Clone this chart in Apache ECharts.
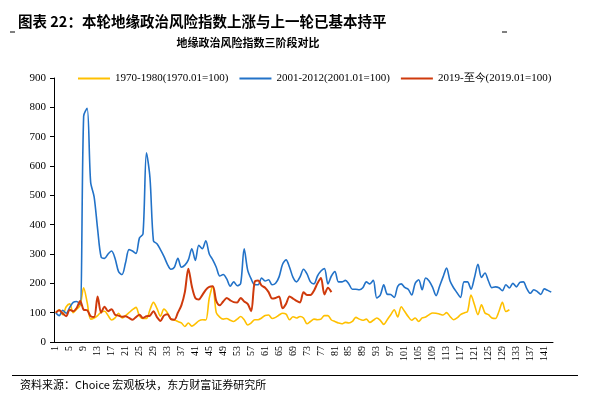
<!DOCTYPE html>
<html>
<head>
<meta charset="utf-8">
<script src="https://cdn.jsdelivr.net/npm/echarts@6/dist/echarts.min.js"></script>
<style>
html, body { margin: 0; padding: 0; background: #fff; }
#main { width: 595px; height: 398px; }
</style>
</head>
<body>
<div id="main"></div>
<script>
// 地缘政治风险指数，三个阶段，各自以起始月 = 100
var seriesNames = ['1970-1980(1970.01=100)', '2001-2012(2001.01=100)', '2019-至今(2019.01=100)']

var gpr1970 = [100, 110, 93, 120, 130, 100, 112, 125, 185, 135,
  78, 82, 90, 102, 105, 90, 75, 82, 98, 82,
  90, 100, 110, 118, 88, 80, 80, 110, 135, 115,
  88, 112, 100, 78, 75, 70, 65, 53, 65, 54,
  62, 72, 76, 75, 150, 190, 100, 85, 78, 80,
  74, 70, 78, 87, 76, 58, 65, 76, 76, 82,
  90, 92, 80, 84, 92, 98, 95, 76, 86, 82,
  87, 82, 62, 70, 78, 76, 78, 90, 90, 75,
  70, 65, 62, 67, 65, 70, 84, 78, 74, 78,
  67, 74, 82, 74, 60, 76, 93, 110, 85, 120,
  104, 87, 74, 82, 70, 82, 85, 93, 99, 98,
  95, 92, 100, 87, 76, 82, 93, 99, 104, 160,
  127, 93, 127, 99, 93, 82, 80, 104, 135, 104,
  110]

var gpr2001 = [100, 90, 108, 98, 118, 135, 138, 128, 770, 797,
  545, 495, 385, 290, 285, 300, 310, 285, 240, 230,
  270, 315, 310, 302, 355, 368, 645, 560, 345, 335,
  315, 292, 265, 248, 255, 285, 255, 262, 280, 318,
  278, 330, 318, 345, 300, 280, 255, 225, 230, 215,
  190, 205, 192, 200, 318, 245, 215, 195, 195, 218,
  208, 212, 195, 200, 222, 265, 280, 255, 220, 205,
  222, 248, 232, 205, 198, 225, 242, 250, 198, 225,
  240, 205, 205, 210, 198, 180, 180, 178, 185, 205,
  198, 210, 150, 160, 195, 163, 162, 152, 190, 198,
  186, 180, 160, 200, 212, 178, 218, 208, 186, 158,
  190, 222, 252, 208, 185, 168, 152, 205, 205, 180,
  220, 265, 220, 235, 208, 185, 188, 185, 175, 195,
  184, 200, 188, 203, 205, 182, 166, 178, 172, 162,
  181, 176, 170]

var gpr2019 = [100, 108, 97, 88, 110, 105, 116, 140, 110, 108,
  88, 85, 155, 100, 120, 105, 112, 93, 90, 86,
  88, 82, 76, 85, 93, 82, 88, 90, 105, 85,
  72, 90, 95, 78, 76, 100, 125, 170, 250, 190,
  150, 145, 160, 178, 188, 190, 140, 125, 138, 150,
  142, 136, 135, 150, 138, 130, 105, 205, 210, 192,
  185, 170, 148, 150, 155, 115, 130, 155, 148, 140,
  135, 170, 160, 160, 175, 200, 218, 162, 185, 170]

var monthIdx = []
for (var k = 1; k <= gpr2001.length; k++) {
  monthIdx.push(String(k))
}

var colors = ['#FFC000', '#2272C8', '#CF3A0C']
var serif = '"Liberation Serif", "Times New Roman", serif'
var cjk = '"Noto Sans CJK SC", sans-serif'

var myChart = echarts.init(document.getElementById('main'))
myChart.setOption({
  animation: false,
  backgroundColor: '#fff',
  color: colors,
  title: [
    {
      text: '图表 22：本轮地缘政治风险指数上涨与上一轮已基本持平',
      left: 18,
      top: 14,
      padding: 0,
      textStyle: { fontFamily: cjk, fontSize: 14.5, fontWeight: 'bold', color: '#000' }
    },
    {
      text: '地缘政治风险指数三阶段对比',
      left: 248,
      textAlign: 'center',
      top: 37,
      padding: 0,
      textStyle: { fontFamily: cjk, fontSize: 11, fontWeight: 'bold', color: '#000' }
    }
  ],
  legend: {
    left: 78,
    top: 73,
    padding: 0,
    itemGap: 11,
    itemWidth: 32,
    itemHeight: 2,
    icon: 'rect',
    textStyle: { fontFamily: serif, fontSize: 11, color: '#000' },
    data: seriesNames
  },
  grid: {
    left: 54,
    right: 42,
    top: 78,
    bottom: 56,
    containLabel: false
  },
  xAxis: {
    type: 'category',
    boundaryGap: true,
    data: monthIdx,
    axisLine: { lineStyle: { color: '#000', width: 1 } },
    axisTick: { interval: 0, length: 3, lineStyle: { color: '#000' } },
    axisLabel: {
      interval: 3,
      rotate: 90,
      margin: 4,
      fontFamily: serif,
      fontSize: 10,
      color: '#000'
    },
    splitLine: { show: false }
  },
  yAxis: {
    type: 'value',
    min: 0,
    max: 900,
    interval: 100,
    axisLine: { show: true, lineStyle: { color: '#000', width: 1 } },
    axisTick: { show: true, length: 4, lineStyle: { color: '#000' } },
    axisLabel: { fontFamily: serif, fontSize: 11, color: '#000', margin: 8 },
    splitLine: { show: false }
  },
  series: [
    {
      name: seriesNames[0],
      type: 'line',
      data: gpr1970,
      smooth: 0.3,
      showSymbol: false,
      lineStyle: { width: 1.6, color: colors[0] }
    },
    {
      name: seriesNames[1],
      type: 'line',
      data: gpr2001,
      smooth: 0.3,
      showSymbol: false,
      lineStyle: { width: 1.6, color: colors[1] }
    },
    {
      name: seriesNames[2],
      type: 'line',
      data: gpr2019,
      smooth: 0.3,
      showSymbol: false,
      lineStyle: { width: 2, color: colors[2] }
    }
  ],
  graphic: [
    { type: 'line', shape: { x1: 10, y1: 32, x2: 15, y2: 32 }, style: { stroke: '#000', lineWidth: 1 } },
    { type: 'line', shape: { x1: 502, y1: 32, x2: 507, y2: 32 }, style: { stroke: '#000', lineWidth: 1 } },
    { type: 'line', shape: { x1: 12, y1: 375.5, x2: 578, y2: 375.5 }, style: { stroke: '#000', lineWidth: 1.2 } },
    {
      type: 'text',
      left: 20,
      top: 379,
      style: {
        text: '资料来源：Choice 宏观板块，东方财富证券研究所',
        font: '11px "Noto Sans CJK SC", sans-serif',
        fill: '#000'
      }
    }
  ]
})
</script>
</body>
</html>
